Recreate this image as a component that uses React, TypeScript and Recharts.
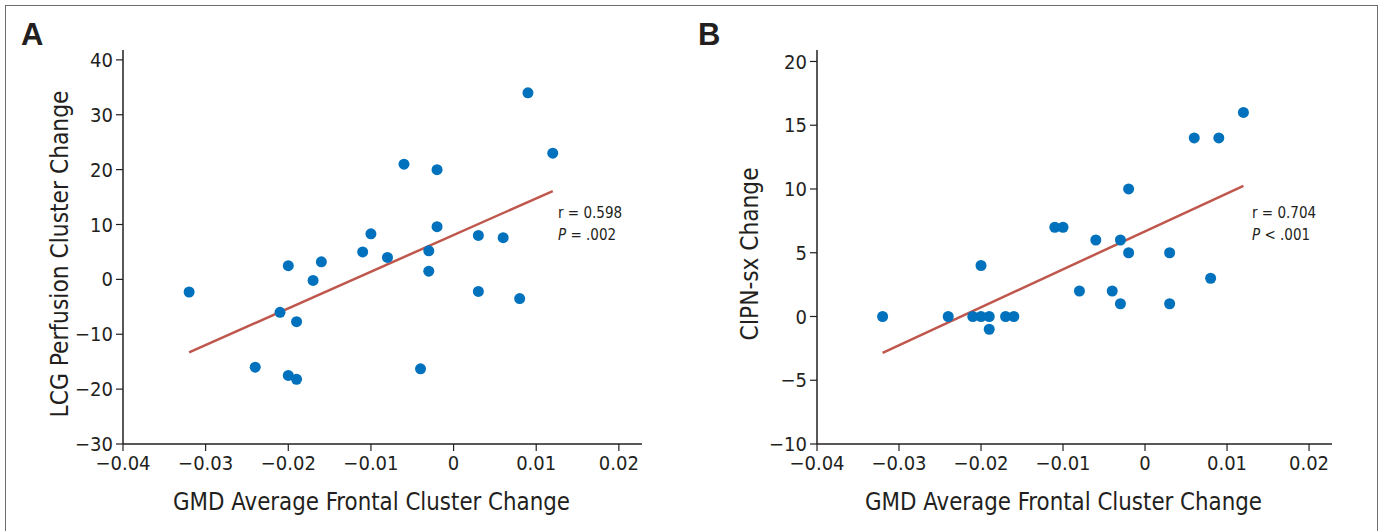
import { ScatterChart, Scatter, XAxis, YAxis, ReferenceLine, Label } from "recharts";

// Shared x values (GMD average frontal cluster change), same subjects in both panels
const gmdA = [-0.032, -0.024, -0.021, -0.02, -0.02, -0.019, -0.019, -0.017, -0.016, -0.011, -0.01, -0.008,
  -0.006, -0.004, -0.003, -0.003, -0.002, -0.002, 0.003, 0.003, 0.006, 0.008, 0.009, 0.012];
const lcgChange = [-2.3, -16, -6, 2.5, -17.5, -7.7, -18.2, -0.2, 3.2, 5, 8.3, 4,
  21, -16.3, 5.2, 1.5, 20, 9.6, 8, -2.2, 7.6, -3.5, 34, 23];

const gmdB = [-0.032, -0.024, -0.021, -0.02, -0.02, -0.019, -0.019, -0.017, -0.016, -0.011, -0.01, -0.008,
  -0.006, -0.004, -0.003, -0.003, -0.002, -0.002, 0.003, 0.003, 0.006, 0.008, 0.009, 0.012];
const cipnChange = [0, 0, 0, 0, 4, 0, -1, 0, 0, 7, 7, 2,
  6, 2, 6, 1, 10, 5, 5, 1, 14, 3, 14, 16];

// fitted lines: [x0, y0, x1, y1]
const fitA = [-0.032, -13.3, 0.012, 16.1];
const fitB = [-0.032, -2.85, 0.012, 10.25];

const xTicks = [-0.04, -0.03, -0.02, -0.01, 0, 0.01, 0.02];
const yTicksA = [-30, -20, -10, 0, 10, 20, 30, 40];
const yTicksB = [-10, -5, 0, 5, 10, 15, 20];

const NARROW = "'Liberation Sans Narrow', 'DejaVu Sans Condensed', 'Roboto Condensed', sans-serif";
const DOT = "#0071BC";
const FIT = "#C0574D";
const INK = "#231F20";

const minus = (v: number) => String(v).replace("-", "\u2212");
const fmtX = (v: number) => (v === 0 ? "0" : minus(Number(v.toFixed(2))));

function Panel({ xs, ys, fit, yTicks, yDomain, yLabel, yLabelLen, yAxisWidth }: {
  xs: number[]; ys: number[]; fit: number[]; yTicks: number[]; yDomain: [number, number];
  yLabel: string; yLabelLen: number; yAxisWidth: number;
}) {
  const data = xs.map((x, i) => ({ x, y: ys[i] }));
  const tick = { fill: INK, fontSize: 20, fontFamily: NARROW };
  return (
    <ScatterChart width={690} height={531} margin={{ top: 50, right: 48, bottom: 0, left: 0 }}>
      <XAxis type="number" dataKey="x" domain={[-0.04, 0.0228]} ticks={xTicks} allowDataOverflow
        tickFormatter={fmtX} tick={tick} tickSize={7} tickMargin={5} height={87}
        axisLine={{ stroke: INK, strokeWidth: 1.5 }} tickLine={{ stroke: INK, strokeWidth: 1.2 }}>
        <Label content={({ viewBox }: any) => (
          <text x={viewBox.x + viewBox.width / 2 - 11} y={viewBox.y + 66} textAnchor="middle"
            fontFamily={NARROW} fontSize={25} fill={INK} textLength={397} lengthAdjust="spacingAndGlyphs">
            GMD Average Frontal Cluster Change
          </text>
        )} />
      </XAxis>
      <YAxis type="number" dataKey="y" domain={yDomain} ticks={yTicks} allowDataOverflow
        tickFormatter={minus} tick={tick} tickSize={7} tickMargin={3} width={yAxisWidth}
        axisLine={{ stroke: INK, strokeWidth: 1.5 }} tickLine={{ stroke: INK, strokeWidth: 1.2 }}>
        <Label content={({ viewBox }: any) => {
          const cx = 59;
          const cy = viewBox.y + viewBox.height / 2 + 7;
          return (
            <text x={cx} y={cy} textAnchor="middle" transform={`rotate(-90 ${cx} ${cy})`}
              dominantBaseline="central" fontFamily={NARROW} fontSize={25} fill={INK}
              textLength={yLabelLen} lengthAdjust="spacingAndGlyphs">
              {yLabel}
            </text>
          );
        }} />
      </YAxis>
      <ReferenceLine segment={[{ x: fit[0], y: fit[1] }, { x: fit[2], y: fit[3] }]}
        stroke={FIT} strokeWidth={2.5} ifOverflow="visible" />
      <Scatter data={data} fill={DOT} isAnimationActive={false}
        shape={(p: any) => <circle cx={p.cx} cy={p.cy} r={5.5} fill={DOT} />} />
    </ScatterChart>
  );
}

const note = { position: "absolute" as const, fontFamily: NARROW, fontSize: 15, color: INK, lineHeight: "22px" };
const letter = { position: "absolute" as const, fontFamily: "'Liberation Sans', Arial, sans-serif", fontWeight: 700, fontSize: 31, color: INK };

export default function App() {
  return (
    <div style={{ position: "absolute", left: 0, top: 0, width: 1382, height: 531, background: "#fff", overflow: "hidden" }}>
      <div style={{ position: "absolute", left: 5, top: 5, width: 1373, height: 560, border: "1.5px solid #6d6d6d", boxSizing: "border-box" }} />
      <div style={{ position: "absolute", left: 0, top: 0 }}>
        <Panel xs={gmdA} ys={lcgChange} fit={fitA} yTicks={yTicksA} yDomain={[-30, 41.8]}
          yLabel="LCG Perfusion Cluster Change" yLabelLen={327} yAxisWidth={123} />
      </div>
      <div style={{ position: "absolute", left: 690, top: 0 }}>
        <Panel xs={gmdB} ys={cipnChange} fit={fitB} yTicks={yTicksB} yDomain={[-10, 20.9]}
          yLabel="CIPN-sx Change" yLabelLen={173} yAxisWidth={127} />
      </div>
      <div style={{ ...letter, left: 21, top: 17 }}>A</div>
      <div style={{ ...letter, left: 698, top: 17 }}>B</div>
      <div style={{ ...note, left: 558, top: 202 }}>r = 0.598<br /><i>P</i> = .002</div>
      <div style={{ ...note, left: 1252, top: 202 }}>r = 0.704<br /><i>P</i> &lt; .001</div>
    </div>
  );
}
